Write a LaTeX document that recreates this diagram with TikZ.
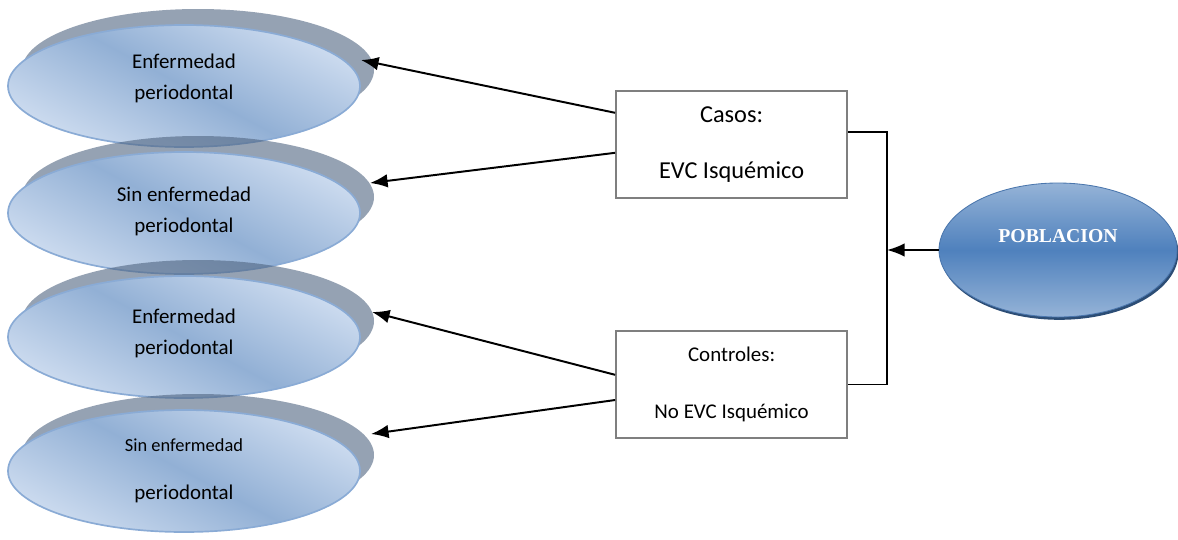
\documentclass[tikz,border=0pt]{standalone}
\usepackage{fontspec}
\setmainfont{Carlito}
\newfontfamily\pobfont{Liberation Serif}
\usepackage{tikz}
\usetikzlibrary{arrows.meta,shapes.geometric,positioning,calc,shadows}
\definecolor{ovallight}{RGB}{204,219,239}
\definecolor{ovalmid}{RGB}{146,176,213}
\definecolor{ovalline}{RGB}{138,171,213}
\definecolor{ovalshade}{RGB}{79,100,128}
\definecolor{boxline}{RGB}{127,127,127}
\definecolor{poplight}{RGB}{149,179,215}
\definecolor{popmid}{RGB}{79,129,189}
\definecolor{popline}{RGB}{74,118,173}
\definecolor{popshade}{RGB}{44,77,117}
% two centred lines, lifted a little inside the oval
\newcommand{\ovaltext}[3]{\raisebox{#1}[\height][\depth]{%
  \begin{tabular}{@{}c@{}}#2\\#3\end{tabular}}}

\begin{document}
\begin{tikzpicture}[
  >=Latex,
  oval/.style={ellipse,draw=ovalline,line width=1.2pt,inner sep=0pt,
               minimum width=8.8cm,minimum height=3.05cm,
               top color=ovallight,bottom color=ovallight,middle color=ovalmid,
               shading angle=-28,align=center,
               font=\fontsize{14.9}{22}\selectfont},
  ovalsh/.style={ellipse,fill=ovalshade,fill opacity=0.6,inner sep=0pt,
                 minimum width=8.8cm,minimum height=3.05cm},
  group/.style={draw=boxline,line width=1.4pt,fill=white,
                minimum width=5.775cm,minimum height=2.675cm,align=center,
                font=\fontsize{14.9}{22}\selectfont},
  pop/.style={ellipse,draw=popline,line width=0.6pt,inner sep=0pt,
              minimum width=5.95cm,minimum height=3.35cm,
              top color=poplight,bottom color=poplight,middle color=popmid,
              drop shadow={shadow xshift=1pt,shadow yshift=-2pt,
                           fill=popshade,opacity=1},
              text=white,font=\pobfont\fontsize{14}{17}\selectfont\bfseries,
              text height=0.4cm,text depth=0.77cm},
  link/.style={->,line width=1.4pt,
               arrows={-Latex[length=0.44cm,width=0.34cm]}}
]
\useasboundingbox (0,0) rectangle (29.45,-13.475);

%% ── Outcome ovals (shadow first, then the oval) ──
\node[ovalsh] (sh1) at (4.95,-1.75)   {};
\node[oval]   (ov1) at (4.6,-2.15)    {\ovaltext{0.2cm}{Enfermedad}{periodontal}};
\node[ovalsh] (sh2) at (4.95,-4.925)  {};
\node[oval]   (ov2) at (4.6,-5.325)   {\ovaltext{0.05cm}{Sin enfermedad}{periodontal}};
\node[ovalsh] (sh3) at (4.95,-8.025)  {};
\node[oval]   (ov3) at (4.6,-8.425)   {\ovaltext{0.1cm}{Enfermedad}{periodontal}};
\node[ovalsh] (sh4) at (4.95,-11.375) {};
\node[oval]   (ov4) at (4.6,-11.775)
  {{\fontsize{13.1}{16}\selectfont Sin enfermedad}\\[12pt]periodontal};

%% ── Study groups ──
\node[group] (casos) at (18.29,-3.61)
  {\fontsize{17.3}{21}\selectfont Casos:\\[18pt]\fontsize{17.3}{21}\selectfont EVC Isquémico};
\node[group] (ctrl)  at (18.29,-9.61)
  {Controles:\\[18pt]No EVC Isquémico};

%% ── Population ──
\node[pop] (pob) at (26.45,-6.25) {POBLACION};

%% ── Arrow tips on the ovals ──
\coordinate (t1) at (9.025,-1.5);
\coordinate (t2) at (9.25,-4.575);
\coordinate (t3) at (9.3,-7.8);
\coordinate (t4) at (9.275,-10.85);

%% ── Groups to ovals ──
\draw[link] ([yshift=0.79cm]casos.west)  -- (t1);
\draw[link] ([yshift=-0.21cm]casos.west) -- (t2);
\draw[link] ([yshift=0.24cm]ctrl.west)   -- (t3);
\draw[link] ([yshift=-0.39cm]ctrl.west)  -- (t4);

%% ── Population split: rail at x = 22.175 ──
\coordinate (bus) at (22.175,-6.275);
\draw[line width=1.1pt] ([yshift=0.31cm]casos.east) -| (bus) |- (ctrl.east);
\draw[link] (pob.west) -- (pob.west -| bus);

\end{tikzpicture}
\end{document}
